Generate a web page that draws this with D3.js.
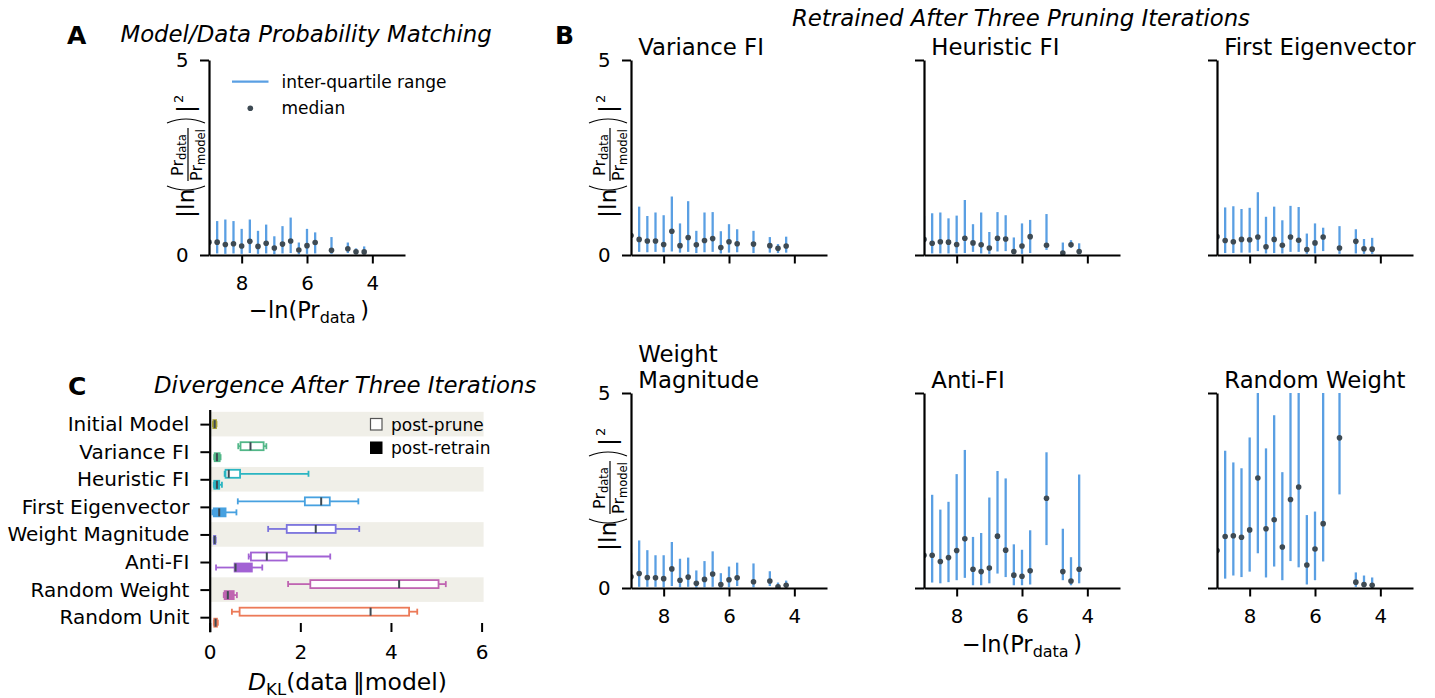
<!DOCTYPE html>
<html>
<head>
<meta charset="utf-8">
<script src="https://cdn.jsdelivr.net/npm/d3@7"></script>
<style>
body { margin: 0; background: #fff; }
svg text { font-family: "DejaVu Sans", sans-serif; fill: #000; }
</style>
</head>
<body>
<svg id="fig" width="1435" height="698"></svg>
<script>
// x positions shared by every panel of A and B
var xVals = [9.0, 8.75, 8.5, 8.25, 8.0, 7.75, 7.5, 7.25, 7.0, 6.75, 6.5, 6.25, 6.0, 5.75, 5.25, 4.75, 4.5, 4.25]
var xTicks = [8, 6, 4]
var yTicks = [0, 5]

// panel A: model/data matching
var matchMed = [0.33, 0.33, 0.27, 0.29, 0.23, 0.35, 0.22, 0.30, 0.18, 0.28, 0.36, 0.13, 0.24, 0.32, 0.12, 0.16, 0.085, 0.08]
var matchHi = [0.90, 0.87, 0.91, 0.87, 0.67, 0.91, 0.62, 0.78, 0.48, 0.74, 0.96, 0.32, 0.67, 0.58, 0.46, 0.32, 0.17, 0.22]
var matchLo = [0.04, 0.04, 0.03, 0.04, 0.03, 0.05, 0.03, 0.04, 0.02, 0.04, 0.05, 0.02, 0.03, 0.04, 0.03, 0.05, 0.02, 0.03]

// panel B: retrained after three pruning iterations
var varianceMed = [0.50, 0.40, 0.36, 0.36, 0.27, 0.61, 0.24, 0.45, 0.26, 0.37, 0.42, 0.19, 0.34, 0.29, 0.28, 0.24, 0.17, 0.23]
var varianceHi = [1.20, 1.24, 1.00, 1.09, 1.02, 1.50, 0.81, 1.38, 0.62, 1.09, 1.10, 0.61, 0.79, 0.66, 0.62, 0.46, 0.28, 0.47]
var varianceLo = [0.08, 0.08, 0.07, 0.08, 0.07, 0.09, 0.06, 0.08, 0.05, 0.07, 0.08, 0.04, 0.06, 0.07, 0.05, 0.06, 0.05, 0.06]

var heuristicMed = [0.40, 0.30, 0.34, 0.33, 0.27, 0.43, 0.31, 0.26, 0.18, 0.43, 0.41, 0.09, 0.23, 0.47, 0.25, 0.05, 0.26, 0.09]
var heuristicHi = [1.00, 1.07, 1.09, 0.94, 1.01, 1.41, 0.79, 1.09, 0.59, 1.10, 1.02, 0.45, 0.81, 0.90, 1.05, 0.32, 0.38, 0.30]
var heuristicLo = [0.05, 0.04, 0.04, 0.04, 0.04, 0.05, 0.08, 0.04, 0.03, 0.09, 0.10, 0.02, 0.03, 0.05, 0.13, 0.01, 0.19, 0.02]

var eigenMed = [0.47, 0.37, 0.34, 0.40, 0.39, 0.46, 0.21, 0.40, 0.25, 0.46, 0.38, 0.14, 0.31, 0.46, 0.18, 0.35, 0.16, 0.15]
var eigenHi = [1.10, 1.22, 1.25, 1.18, 1.21, 1.61, 0.98, 1.24, 0.89, 1.26, 1.23, 0.55, 0.81, 0.70, 0.74, 0.66, 0.41, 0.44]
var eigenLo = [0.06, 0.05, 0.05, 0.06, 0.06, 0.10, 0.04, 0.05, 0.04, 0.08, 0.08, 0.03, 0.04, 0.10, 0.03, 0.04, 0.03, 0.03]

var magnitudeMed = [0.29, 0.37, 0.27, 0.26, 0.24, 0.49, 0.20, 0.28, 0.12, 0.22, 0.36, 0.09, 0.21, 0.26, 0.16, 0.18, 0.03, 0.07]
var magnitudeHi = [0.90, 1.22, 0.97, 0.84, 0.84, 1.18, 0.75, 0.78, 0.45, 0.69, 0.94, 0.38, 0.55, 0.65, 0.63, 0.43, 0.14, 0.19]
var magnitudeLo = [0.03, 0.03, 0.03, 0.03, 0.02, 0.05, 0.02, 0.03, 0.01, 0.02, 0.03, 0.01, 0.02, 0.05, 0.02, 0.05, 0.00, 0.02]

var antiMed = [0.84, 0.84, 0.68, 0.78, 0.96, 1.26, 0.48, 0.42, 0.51, 1.33, 0.97, 0.33, 0.30, 0.44, 2.30, 0.42, 0.18, 0.48]
var antiHi = [2.30, 2.39, 2.01, 2.21, 2.92, 3.54, 1.31, 1.41, 2.32, 3.00, 2.81, 1.12, 0.98, 1.48, 3.48, 1.52, 0.79, 2.91]
var antiLo = [0.14, 0.14, 0.12, 0.15, 0.20, 0.26, 0.07, 0.07, 0.12, 0.37, 0.28, 0.07, 0.07, 0.09, 1.10, 0.20, 0.07, 0.12]

var randWMed = [0.96, 1.32, 1.34, 1.30, 1.49, 2.82, 1.52, 1.75, 1.05, 2.27, 2.59, 0.59, 1.00, 1.65, 3.85, 0.15, 0.09, 0.07]
var randWHi = [3.00, 3.52, 3.22, 3.07, 3.86, 5.60, 3.58, 4.43, 2.97, 5.60, 5.60, 1.87, 1.96, 5.60, 5.60, 0.40, 0.32, 0.27]
var randWLo = [0.20, 0.24, 0.32, 0.28, 0.42, 0.89, 0.27, 0.55, 0.20, 0.69, 0.53, 0.09, 0.20, 0.68, 2.40, 0.03, 0.02, 0.02]

// panel C: divergence boxplots
var cats = ["Initial Model", "Variance FI", "Heuristic FI", "First Eigenvector", "Weight Magnitude", "Anti-FI", "Random Weight", "Random Unit"]
var catColors = ["#aba434", "#52b788", "#2ab5c2", "#47a1e0", "#7b73dd", "#a262d4", "#bf64b1", "#ec7a58"]
var pruneLo  = [null, 0.63, 0.33, 0.62, 1.29, 0.86, 1.73, 0.49]
var pruneQ1  = [null, 0.68, 0.35, 2.10, 1.70, 0.91, 2.22, 0.66]
var pruneMed = [null, 0.90, 0.42, 2.46, 2.34, 1.26, 4.18, 3.55]
var pruneQ3  = [null, 1.19, 0.67, 2.65, 2.78, 1.70, 5.05, 4.40]
var pruneHi  = [null, 1.25, 2.18, 3.28, 3.30, 2.66, 5.21, 4.58]
var retrainLo  = [0.07, 0.10, 0.09, 0.06, 0.09, 0.14, 0.31, 0.09]
var retrainQ1  = [0.08, 0.11, 0.10, 0.09, 0.095, 0.55, 0.33, 0.10]
var retrainMed = [0.11, 0.16, 0.16, 0.21, 0.11, 0.57, 0.40, 0.13]
var retrainQ3  = [0.14, 0.22, 0.21, 0.35, 0.125, 0.93, 0.53, 0.16]
var retrainHi  = [0.15, 0.24, 0.27, 0.59, 0.13, 1.16, 0.60, 0.18]
var kdTicks = [0, 2, 4, 6]

var blue = "#5a9fe3"
var dot = "#3e4a53"
var svg = d3.select("#fig")
var FONT = "DejaVu Sans"
var clipN = 0

function txt(sel, x, y, s, size) {
  return sel.append("text").attr("x", x).attr("y", y).style("font-size", size + "px").text(s)
}

// |ln(Pr_data / Pr_model)|^2 drawn rotated
function yLabel(ax, ay) {
  var g = svg.append("g").attr("transform", "translate(" + (ax - 14) + "," + (ay - 37) + ") rotate(-90)")
  txt(g, 0, -1, "|ln", 23.5)
  g.append("path").attr("d", "M32,-28 Q24,-9 32,10").attr("fill", "none").attr("stroke", "#000").attr("stroke-width", 1.1)
  var num = g.append("text").attr("x", 63).attr("y", -12).attr("text-anchor", "middle").style("font-size", "16px")
  num.append("tspan").text("Pr")
  num.append("tspan").attr("dy", 3).style("font-size", "11.5px").text("data")
  g.append("line").attr("x1", 37).attr("x2", 90).attr("y1", -7).attr("y2", -7).attr("stroke", "#000").attr("stroke-width", 1.2)
  var den = g.append("text").attr("x", 63).attr("y", 7).attr("text-anchor", "middle").style("font-size", "16px")
  den.append("tspan").text("Pr")
  den.append("tspan").attr("dy", 3).style("font-size", "11.5px").text("model")
  g.append("path").attr("d", "M95,-28 Q103,-9 95,10").attr("fill", "none").attr("stroke", "#000").attr("stroke-width", 1.1)
  txt(g, 105, -1, "|", 23.5)
  txt(g, 115, -12, "2", 13)
}

function xLabel(cx, by) {
  var t = svg.append("text").attr("x", cx).attr("y", by).attr("text-anchor", "middle").style("font-size", "22.5px")
  t.append("tspan").text("\u2212ln(Pr")
  t.append("tspan").attr("dy", 5).style("font-size", "16px").text("data")
  t.append("tspan").attr("dy", -5).text("\u2009)")
}

function panel(ax, ay, med, lo, hi, showX, showY) {
  var x = d3.scaleLinear().domain([9, 3]).range([ax, ax + 196])
  var y = d3.scaleLinear().domain([0, 5]).range([ay, ay - 195])
  var id = "clip" + (clipN++)
  svg.append("clipPath").attr("id", id).append("rect")
    .attr("x", ax).attr("y", ay - 195).attr("width", 196).attr("height", 195)
  var g = svg.append("g").attr("clip-path", "url(#" + id + ")")
  g.selectAll("line.iqr").data(xVals).enter().append("line")
    .attr("x1", function (d) { return x(d) }).attr("x2", function (d) { return x(d) })
    .attr("y1", function (d, i) { return y(lo[i]) }).attr("y2", function (d, i) { return y(hi[i]) })
    .attr("stroke", blue).attr("stroke-width", 2.3)
  g.selectAll("circle").data(xVals).enter().append("circle")
    .attr("cx", function (d) { return x(d) }).attr("cy", function (d, i) { return y(med[i]) })
    .attr("r", 2.8).attr("fill", dot)

  var xa = svg.append("g").attr("transform", "translate(0," + ay + ")")
    .call(d3.axisBottom(x).tickValues(xTicks).tickSize(8.5).tickSizeOuter(0).tickPadding(12.6)
      .tickFormat(showX ? d3.format("d") : function () { return "" }))
  var ya = svg.append("g").attr("transform", "translate(" + ax + ",0)")
    .call(d3.axisLeft(y).tickValues(yTicks).tickSize(9).tickSizeOuter(0).tickPadding(11.5)
      .tickFormat(showY ? d3.format("d") : function () { return "" }))
  ;[xa, ya].forEach(function (a) {
    a.attr("font-family", FONT).attr("font-size", 19.8)
    a.select(".domain").attr("stroke-width", 2.2)
    a.selectAll(".tick line").attr("stroke-width", 2)
    a.selectAll(".tick text").attr("fill", "#000")
  })
}

// ---------- panel A ----------
txt(svg, 67, 43.5, "A", 25).style("font-weight", "bold")
txt(svg, 120.5, 42, "Model/Data Probability Matching", 22.8).style("font-style", "italic")
panel(209, 255, matchMed, matchLo, matchHi, true, true)
yLabel(209, 255)
xLabel(309, 318)
svg.append("line").attr("x1", 232).attr("x2", 268.5).attr("y1", 81.7).attr("y2", 81.7).attr("stroke", blue).attr("stroke-width", 2.3)
txt(svg, 281.5, 87.5, "inter-quartile range", 17)
svg.append("circle").attr("cx", 250.3).attr("cy", 108.3).attr("r", 2.8).attr("fill", dot)
txt(svg, 281.5, 114.2, "median", 17)

// ---------- panel B ----------
txt(svg, 555, 43.5, "B", 25).style("font-weight", "bold")
txt(svg, 1021, 26, "Retrained After Three Pruning Iterations", 22.8).attr("text-anchor", "middle").style("font-style", "italic")
var bPanels = [
  { title: ["Variance FI"], med: varianceMed, lo: varianceLo, hi: varianceHi },
  { title: ["Heuristic FI"], med: heuristicMed, lo: heuristicLo, hi: heuristicHi },
  { title: ["First Eigenvector"], med: eigenMed, lo: eigenLo, hi: eigenHi },
  { title: ["Weight", "Magnitude"], med: magnitudeMed, lo: magnitudeLo, hi: magnitudeHi },
  { title: ["Anti-FI"], med: antiMed, lo: antiLo, hi: antiHi },
  { title: ["Random Weight"], med: randWMed, lo: randWLo, hi: randWHi }
]
var colX = [631, 924, 1217]
var rowY = [255, 588]
bPanels.forEach(function (p, k) {
  var ax = colX[k % 3], ay = rowY[Math.floor(k / 3)]
  panel(ax, ay, p.med, p.lo, p.hi, k >= 3, k % 3 === 0)
  if (k % 3 === 0) yLabel(ax, ay)
  var n = p.title.length
  p.title.forEach(function (s, j) {
    txt(svg, ax + 7.3, ay - 200 - (n - 1 - j) * 25.6, s, 22.8)
  })
})
xLabel(1022, 652)

// ---------- panel C ----------
txt(svg, 68, 395, "C", 25).style("font-weight", "bold")
txt(svg, 154, 393, "Divergence After Three Iterations", 22.8).style("font-style", "italic")
var xc = d3.scaleLinear().domain([0, 6]).range([209.7, 481.6])
var yc = d3.scalePoint().domain(cats).range([409.5, 631.8]).padding(0.53)

svg.selectAll("rect.band").data(cats.filter(function (d, i) { return i % 2 === 0 })).enter().append("rect")
  .attr("x", xc(0)).attr("width", xc(6) - xc(0) + 2)
  .attr("y", function (d) { return yc(d) - 12.3 }).attr("height", 24.6)
  .attr("fill", "#f0efe8")

function box(i, off, lo, q1, med, q3, hi, filled) {
  var c = catColors[i], cy = yc(cats[i]) + off, g = svg.append("g")
  g.append("line").attr("x1", xc(lo)).attr("x2", xc(q1)).attr("y1", cy).attr("y2", cy).attr("stroke", c).attr("stroke-width", 1.8)
  g.append("line").attr("x1", xc(q3)).attr("x2", xc(hi)).attr("y1", cy).attr("y2", cy).attr("stroke", c).attr("stroke-width", 1.8)
  ;[lo, hi].forEach(function (v) {
    g.append("line").attr("x1", xc(v)).attr("x2", xc(v)).attr("y1", cy - 3).attr("y2", cy + 3).attr("stroke", c).attr("stroke-width", 1.8)
  })
  g.append("rect").attr("x", xc(q1)).attr("width", xc(q3) - xc(q1)).attr("y", cy - 4).attr("height", 8)
    .attr("fill", filled ? c : "#fff").attr("stroke", c).attr("stroke-width", 1.8)
  g.append("line").attr("x1", xc(med)).attr("x2", xc(med)).attr("y1", cy - 4).attr("y2", cy + 4).attr("stroke", dot).attr("stroke-width", 2)
}
cats.forEach(function (d, i) {
  if (pruneMed[i] === null) {
    box(i, 0, retrainLo[i], retrainQ1[i], retrainMed[i], retrainQ3[i], retrainHi[i], true)
  } else {
    box(i, -5.5, pruneLo[i], pruneQ1[i], pruneMed[i], pruneQ3[i], pruneHi[i], false)
    box(i, 5.5, retrainLo[i], retrainQ1[i], retrainMed[i], retrainQ3[i], retrainHi[i], true)
  }
})

var cy = svg.append("g").attr("transform", "translate(209.7,0)")
  .call(d3.axisLeft(yc).tickSize(9.3).tickSizeOuter(0).tickPadding(11))
var cx = svg.append("g").attr("transform", "translate(0,632)")
  .call(d3.axisBottom(xc).tickValues(kdTicks).tickSize(-9).tickSizeOuter(0).tickPadding(13).tickFormat(d3.format("d")))
cx.select(".domain").remove()
;[cy, cx].forEach(function (a) {
  a.attr("font-family", FONT).attr("font-size", 20)
  a.select(".domain").attr("stroke-width", 2.2)
  a.selectAll(".tick line").attr("stroke-width", 2)
  a.selectAll(".tick text").attr("fill", "#000")
})

svg.append("rect").attr("x", 370.5).attr("y", 418.5).attr("width", 11.5).attr("height", 11.5).attr("fill", "#fff").attr("stroke", "#555").attr("stroke-width", 1.2)
txt(svg, 391, 430.5, "post-prune", 17)
svg.append("rect").attr("x", 370).attr("y", 441.5).attr("width", 12.5).attr("height", 12.5).attr("fill", "#000")
txt(svg, 391, 453.5, "post-retrain", 17)

var kl = svg.append("text").attr("x", 248).attr("y", 690).style("font-size", "23.5px")
kl.append("tspan").style("font-style", "italic").text("D")
kl.append("tspan").attr("dy", 5).style("font-size", "16.5px").text("KL")
kl.append("tspan").attr("dy", -5).text("(data\u2009\u2016model)")
</script>
</body>
</html>
